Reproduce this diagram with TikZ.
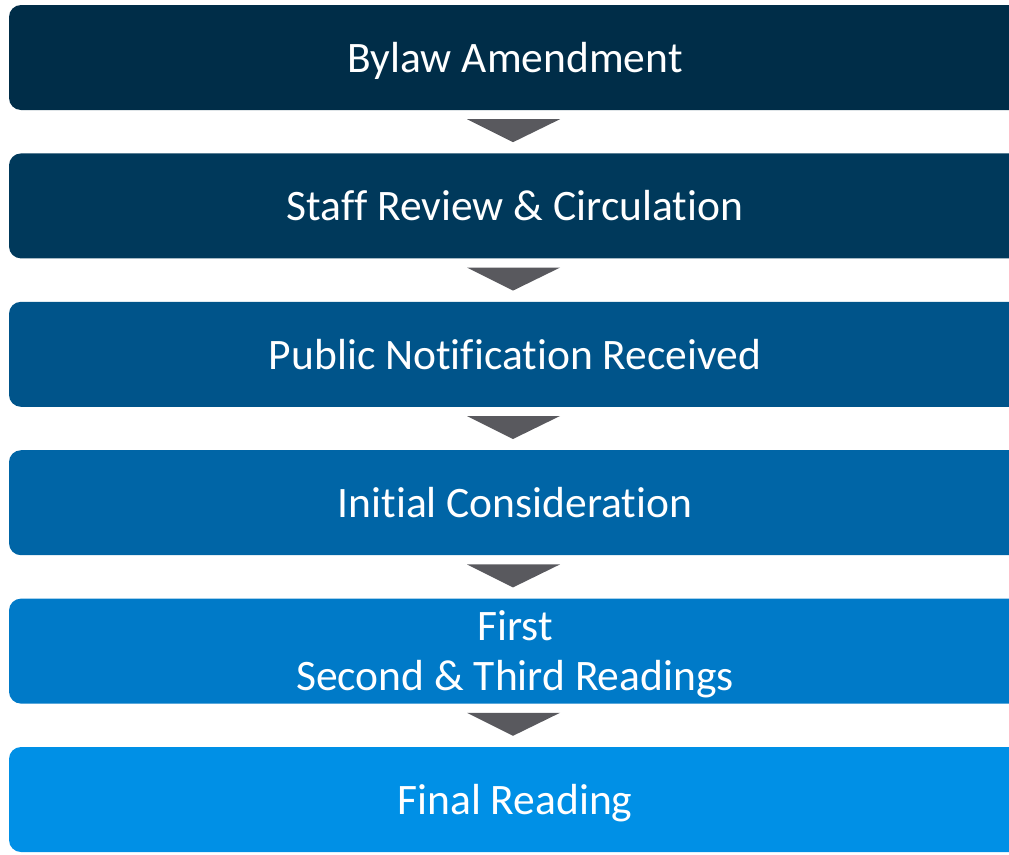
\documentclass[tikz,border=0pt]{standalone}
\usepackage{fontspec}
\setmainfont{Carlito}[Ligatures=CommonOff]
\usetikzlibrary{calc, positioning}

\definecolor{stageA}{RGB}{0,45,72}
\definecolor{stageB}{RGB}{0,57,91}
\definecolor{stageC}{RGB}{0,84,138}
\definecolor{stageD}{RGB}{0,101,166}
\definecolor{stageE}{RGB}{0,122,200}
\definecolor{stageF}{RGB}{0,144,230}
\definecolor{arrowgray}{RGB}{89,89,94}

\begin{document}
\begin{tikzpicture}[x=1pt,y=1pt,node distance=43pt,
                    stage/.style={rounded corners=12pt,minimum width=1012pt,minimum height=105pt,
                                  text=white,font=\fontsize{43.5}{50}\selectfont,align=center,inner sep=0pt,
                                  text height=32pt,text depth=2.5pt},
                    down arrow/.style={fill=arrowgray}]

 \useasboundingbox (0,0) rectangle (1009,-854);
 \clip (0,0) rectangle (1009,-854);

 \node[stage,fill=stageA] (amend) at (515,-57.5) {Bylaw Amendment};
 \node[stage,fill=stageB] (review) [below=of amend] {Staff Review \& Circulation};
 \node[stage,fill=stageC] (notice) [below=of review] {Public Notification Received};
 \node[stage,fill=stageD] (initial) [below=of notice] {Initial Consideration};
 \node[stage,fill=stageE,text height=82pt] (readings) [below=of initial] {First\\Second \& Third Readings};
 \node[stage,fill=stageF] (final) [below=of readings] {Final Reading};

 % arrows between the stages
 \foreach \a in {amend,review,notice,initial,readings}
   \fill[down arrow] ($(\a.south)+(-48,-9)$) -- ++(93,0) -- ($(\a.south)+(-2,-32)$) -- cycle;

\end{tikzpicture}
\end{document}
